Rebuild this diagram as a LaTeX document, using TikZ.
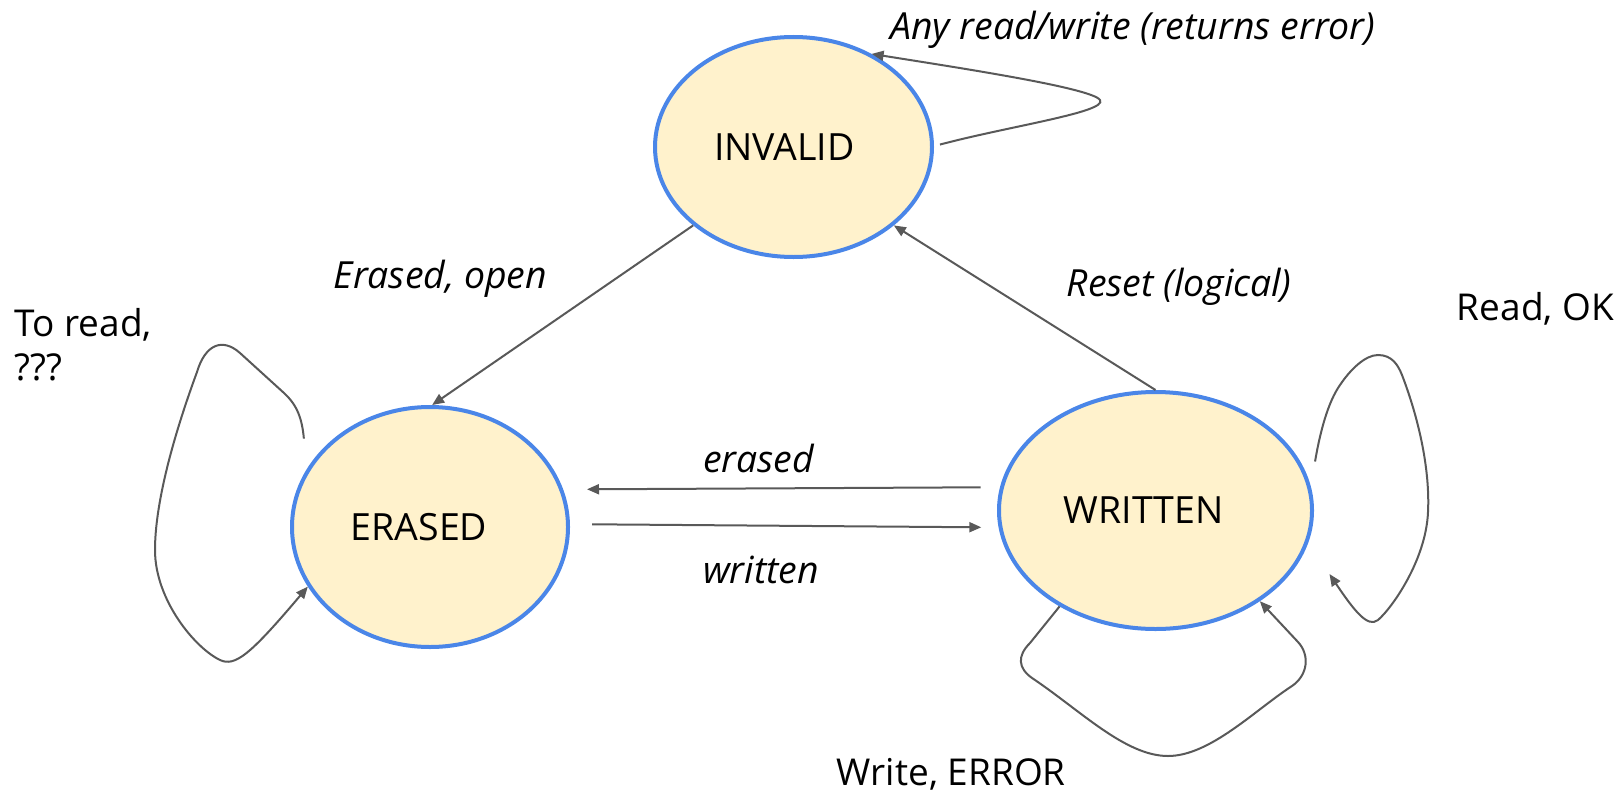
\documentclass[tikz,border=0pt]{standalone}
\usepackage{fontspec}
\setmainfont{Open Sans}
\usetikzlibrary{shapes.geometric,arrows.meta}
\definecolor{stateblue}{HTML}{4A86E8}
\definecolor{statefill}{HTML}{FFF2CC}
\definecolor{linegray}{HTML}{595959}
\begin{document}
\begin{tikzpicture}[x=1pt,y=-1pt,
  statenode/.style={ellipse, draw=stateblue, fill=statefill, line width=4pt, inner sep=0pt,
    font=\fontsize{37.5}{45}\selectfont},
  conn/.style={draw=linegray, line width=2pt, -{Triangle[length=12pt,width=10pt]}},
  lbl/.style={inner sep=0pt, anchor=base west, font=\fontsize{37.4}{45}\selectfont\itshape},
  plainlbl/.style={inner sep=0pt, anchor=base west, font=\fontsize{37}{44}\selectfont}]
\useasboundingbox (0,0) rectangle (1619,792);

\node[statenode, minimum width=277pt, minimum height=220pt] (inv) at (793.5,147) {INVALID\kern18pt};
\node[statenode, minimum width=276pt, minimum height=240pt] (er) at (430,527) {ERASED\kern22pt};
\node[statenode, minimum width=313pt, minimum height=237pt] (wr) at (1155.5,510.5) {WRITTEN\kern24pt};

% INVALID self loop
\draw[conn] ([xshift=6pt]inv.1.5) .. controls (1010,126) and (1108,112) .. (1100,100)
  .. controls (1092,88) and (960,68) .. (inv.50);
% INVALID -> ERASED
\draw[conn] (inv.218.4) -- (er.89);
% WRITTEN -> INVALID
\draw[conn] (wr.90) -- (inv.-38.1);
% WRITTEN -> ERASED
\draw[conn] ([shift={(-16.3,-23.2)}]wr.west) -- ([shift={(17,-37.7)}]er.east);
% ERASED -> WRITTEN
\draw[conn] ([shift={(22,-2.7)}]er.east) -- ([shift={(-15.7,16.8)}]wr.west);
% ERASED self loop
\draw[conn] ([shift={(-17,-12)}]er.145) .. controls (302,418) and (297,405) .. (284,393)
  -- (240,353) .. controls (222,337) and (205,345) .. (197,372)
  .. controls (172,440) and (155,505) .. (155,550)
  .. controls (155,600) and (195,648) .. (220,660)
  .. controls (235,667) and (250,655) .. (er.206.6);
% WRITTEN right self loop
\draw[conn] ([shift={(12.5,-4)}]wr.17.9) .. controls (1320,432) and (1328,402) .. (1340,385)
  .. controls (1350,370) and (1365,355) .. (1378,355)
  .. controls (1392,355) and (1398,365) .. (1402,375)
  .. controls (1420,422) and (1430,472) .. (1428,512)
  .. controls (1426,560) and (1392,608) .. (1378,620)
  .. controls (1368,628) and (1355,612) .. ([shift={(31,11.5)}]wr.-20.3);
% WRITTEN bottom self loop
\draw[conn] (wr.225.6) -- (1030,643) .. controls (1017,656) and (1018,668) .. (1032,678)
  .. controls (1080,710) and (1125,756) .. (1168,756)
  .. controls (1210,756) and (1255,710) .. (1292,686)
  .. controls (1308,675) and (1310,655) .. (1298,642) -- (wr.-41.6);

% labels
\node[lbl] (lany) at (890,40) {Any read/write (returns error)};
\node[lbl] (lopen) at (333.5,288) {Erased, open};
\node[lbl] (lreset) at (1066.5,296) {Reset (logical)};
\node[lbl] (lerased) at (703,472) {erased};
\node[lbl] (lwritten) at (703,583) {written};
\node[plainlbl, anchor=north west, align=left] (lread) at (14.5,308) {To read,\\???};
\node[plainlbl] (lok) at (1456.7,320) {Read, OK};
\node[plainlbl] (lerr) at (836.7,785) {Write, ERROR};
\end{tikzpicture}
\end{document}
